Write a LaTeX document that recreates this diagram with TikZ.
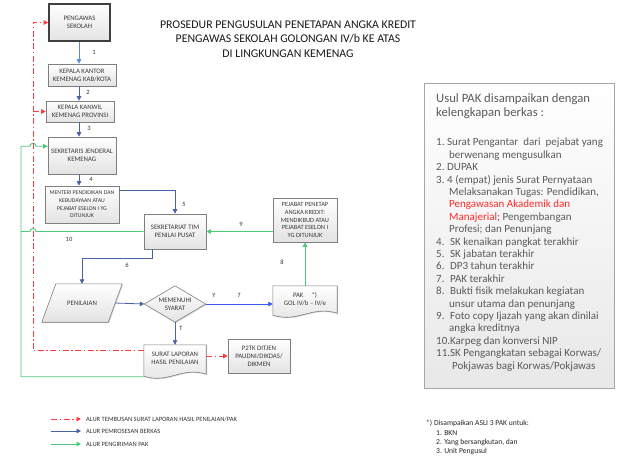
\documentclass[tikz,border=0pt]{standalone}
\usepackage{fontspec}
\setmainfont{Carlito}
\usetikzlibrary{arrows.meta,calc,shadows,backgrounds}
\definecolor{boxline}{HTML}{7F7F7F}
\definecolor{txt}{HTML}{3A3A3A}
\definecolor{procblue}{HTML}{4A62A8}
\definecolor{lightblue}{HTML}{5B8ED6}
\definecolor{brightblue}{HTML}{3A5BF0}
\definecolor{pakgreen}{HTML}{4CCB7A}
\definecolor{tembred}{HTML}{FF3B3B}
\definecolor{grayt}{HTML}{5A5A5A}
\definecolor{redt}{HTML}{FF2A2A}
\begin{document}
\begin{tikzpicture}[x=1pt,y=-1pt,
  flowbox/.style={draw=boxline, line width=0.6pt, top color=white, bottom color=black!11,
    drop shadow={shadow xshift=0.9pt,shadow yshift=-0.9pt,opacity=0.3},
    text=txt, font=\fontsize{6.8}{8}\selectfont, align=center, inner sep=1pt},
  shapebox/.style={draw=boxline, line width=0.6pt, top color=white, bottom color=black!11,
    drop shadow={shadow xshift=0.9pt,shadow yshift=-0.9pt,opacity=0.3}},
  shapetext/.style={text=txt, font=\fontsize{6.8}{8}\selectfont, align=center, inner sep=0pt},
  flabel/.style={font=\fontsize{6.5}{7}\selectfont, text=black!80, inner sep=0pt},
  tip/.style={-{Triangle[length=4.5pt,width=4.5pt]}},
  procflow/.style={draw=procblue, line width=0.8pt, tip},
  redflow/.style={draw=tembred, line width=1pt, dash pattern=on 6pt off 2.5pt on 1.5pt off 2.5pt},
  greenflow/.style={draw=pakgreen, line width=0.9pt},
  legendtext/.style={font=\fontsize{6.5}{7}\selectfont, text=black!80, inner sep=0pt, anchor=west},
]
\useasboundingbox (0,0) rectangle (639,472);

% title
\node[align=center, font=\fontsize{11.8}{14.5}\selectfont, text=black!90] (title) at (288,39)
  {PROSEDUR PENGUSULAN PENETAPAN ANGKA KREDIT\\PENGAWAS SEKOLAH GOLONGAN IV/b KE ATAS\\DI LINGKUNGAN KEMENAG};

% flow boxes
\node[flowbox, minimum width=61pt, minimum height=37pt, draw=black!75, line width=1.6pt] (peng) at (79.5,22.5) {PENGAWAS\\SEKOLAH};
\node[flowbox, minimum width=68pt, minimum height=22pt] (kab) at (82,75) {KEPALA KANTOR\\KEMENAG KAB/KOTA};
\node[flowbox, minimum width=68pt, minimum height=21pt] (kanwil) at (80,111.5) {KEPALA KANWIL\\KEMENAG PROVINSI};
\node[flowbox, minimum width=68pt, minimum height=37pt] (sekjen) at (82,155.5) {SEKRETARIS JENDERAL\\KEMENAG};
\node[flowbox, minimum width=74pt, minimum height=37pt, font=\fontsize{5.8}{7.7}\selectfont] (menteri) at (82,204.5) {MENTERI PENDIDIKAN DAN\\KEBUDAYAAN ATAU\\PEJABAT ESELON I YG\\DITUNJUK};
\node[flowbox, minimum width=62pt, minimum height=35pt] (sekr) at (175,231.5) {SEKRETARIAT TIM\\PENILAI PUSAT};
\node[flowbox, minimum width=64pt, minimum height=44pt, font=\fontsize{6.4}{7.8}\selectfont] (pejabat) at (305,220) {PEJABAT PENETAP\\ANGKA KREDIT:\\MENDIKBUD ATAU\\PEJABAT ESELON I\\YG DITUNJUK};
\node[flowbox, minimum width=62pt, minimum height=34pt] (p2tk) at (259,356) {P2TK DITJEN\\PAUDNI/DIKDAS/\\DIKMEN};

% shape nodes (text only; outlines on background)
\node[shapetext, minimum width=80pt, minimum height=38pt] (penil) at (82,303) {PENILAIAN};
\node[shapetext, minimum width=61pt, minimum height=36pt] (syarat) at (175,304) {MEMENUHI\\SYARAT};
\node[shapetext, minimum width=64pt, minimum height=26pt] (pak) at (305,299) {PAK\hspace{8pt}*)\\GOL IV/b -- IV/e};
\node[shapetext, minimum width=62pt, minimum height=27pt] (surat) at (175,358.5) {SURAT LAPORAN\\HASIL PENILAIAN};

\begin{scope}[on background layer]
  \fill[white] (0,0) rectangle (639,472);
  \path[shapebox] ($(penil.north west)+(14,0)$) -- (penil.north east) -- ($(penil.south east)+(-14,0)$) -- (penil.south west) -- cycle;
  \path[shapebox] (syarat.west) -- (syarat.north) -- (syarat.east) -- (syarat.south) -- cycle;
  \path[shapebox] (pak.north west) -- (pak.north east) -- ($(pak.south east)+(0,1)$)
     .. controls +(-26,-8) and +(26,8) .. ($(pak.south west)+(0,3)$) -- cycle;
  \path[shapebox] (surat.north west) -- (surat.north east) -- ($(surat.south east)+(0,2)$)
     .. controls +(-25,-8) and +(25,8) .. ($(surat.south west)+(0,4)$) -- cycle;
\end{scope}

% helper columns
\coordinate (col) at (79,0);
\coordinate (redx) at (33,0);
\coordinate (gx) at (21,0);

% process flow (blue)
\draw[procflow, draw=lightblue] (peng.south -| col) -- (kab.north -| col);
\draw[procflow] (kab.south -| col) -- (kanwil.north -| col);
\draw[procflow] (kanwil.south -| col) -- (sekjen.north -| col);
\draw[procflow] (sekjen.south -| col) -- (menteri.north -| col);
\draw[procflow] ($(menteri.north east)+(0,5)$) -| (sekr.north);
\draw[procflow] ($(sekr.south west)+(9,0)$) -- ++(0,9) -| (penil.north);
\draw[procflow] ($(penil.east)+(-7,0)$) -- (syarat.west);
\draw[procflow, draw=brightblue] (syarat.east) -- (syarat.east -| pak.west);
\draw[procflow] (syarat.south) -- (surat.north);

% PAK flow (green)
\draw[greenflow, tip] (pak.north) -- (pejabat.south);
\draw[greenflow, tip] (pejabat.west |- sekr.east) -- (sekr.east);
\coordinate (sk) at ($(sekjen.north west)+(0,9.5)$);
\draw[greenflow, tip] ($(surat.south west)+(0,4.5)$) -- ($(gx |- surat.south west)+(0,4.5)$) -- (gx |- sk)
   -- ($(redx |- sk)+(-3,0)$) arc[start angle=180, end angle=360, radius=3] -- (sk);
\draw[greenflow] (sekr.west) -- ($(redx |- sekr.west)+(3,0)$) arc[start angle=0, end angle=-180, radius=3] -- (gx |- sekr.west);

% copy flow (red)
\draw[redflow, tip] ($(surat.north west)+(0,6)$) -| (redx |- peng.west) -- (peng.west);
\draw[redflow, tip] (redx |- kanwil.west) -- (kanwil.west);
\draw[redflow, tip] (p2tk.west -| surat.east) -- (p2tk.west);

% flow labels
\node[flabel] (l1) at (94,52) {1};
\node[flabel] (l2) at (88,92) {2};
\node[flabel] (l3) at (89,128) {3};
\node[flabel] (l4) at (91,179) {4};
\node[flabel] (l5) at (184,204) {5};
\node[flabel] (l6) at (127,265) {6};
\node[flabel] (lY) at (214,295) {Y};
\node[flabel] (l7) at (239,295) {7};
\node[flabel] (l8) at (282,262) {8};
\node[flabel] (l9) at (241,224) {9};
\node[flabel] (l10) at (69,239) {10};
\node[flabel] (lT) at (181,328) {T};

% requirements box
\node[draw=black!35, line width=0.8pt, top color=white, bottom color=black!9,
  drop shadow={shadow xshift=1.2pt,shadow yshift=-1.2pt,opacity=0.35},
  minimum width=190pt, minimum height=305pt] (berkas) at (519,235.5) {};
\node[anchor=north west, inner sep=0pt, align=left, text=grayt, font=\fontsize{12.7}{14}\selectfont] (hdr) at (436,93)
  {Usul PAK disampaikan dengan\\kelengkapan berkas :};
\node[anchor=north west, inner sep=0pt, align=left, text=grayt, font=\fontsize{11}{12.4}\selectfont] (lst) at (436,138)
  {\makebox[11pt][l]{1.}Surat Pengantar~ dari~ pejabat yang\\
   \hspace*{13pt}berwenang mengusulkan\\
   \makebox[11pt][l]{2.}DUPAK\\
   \makebox[11pt][l]{3.}4 (empat) jenis Surat Pernyataan\\
   \hspace*{13pt}Melaksanakan Tugas: Pendidikan,\\
   \hspace*{13pt}\textcolor{redt}{Pengawasan Akademik dan}\\
   \hspace*{13pt}\textcolor{redt}{Manajerial}; Pengembangan\\
   \hspace*{13pt}Profesi; dan Penunjang\\
   \makebox[14pt][l]{4.}SK kenaikan pangkat terakhir\\
   \makebox[14pt][l]{5.}SK jabatan terakhir\\
   \makebox[14pt][l]{6.}DP3 tahun terakhir\\
   \makebox[14pt][l]{7.}PAK terakhir\\
   \makebox[14pt][l]{8.}Bukti fisik melakukan kegiatan\\
   \hspace*{13pt}unsur utama dan penunjang\\
   \makebox[14pt][l]{9.}Foto copy Ijazah yang akan dinilai\\
   \hspace*{13pt}angka kreditnya\\
   10.Karpeg dan konversi NIP\\
   11.SK Pengangkatan sebagai Korwas/\\
   \hspace*{16pt}Pokjawas bagi Korwas/Pokjawas};

% legend
\coordinate (lg1a) at (51,419);
\coordinate (lg2a) at (51,431);
\coordinate (lg3a) at (51,444);
\node[legendtext] (lg1) at (86,419) {ALUR TEMBUSAN SURAT LAPORAN HASIL PENILAIAN/PAK};
\node[legendtext] (lg2) at (86,431) {ALUR PEMROSESAN BERKAS};
\node[legendtext] (lg3) at (86,444) {ALUR PENGIRIMAN PAK};
\draw[redflow, tip] (lg1a) -- ($(lg1.west)+(-5,0)$);
\draw[procflow] (lg2a) -- ($(lg2.west)+(-5,0)$);
\draw[greenflow, tip] (lg3a) -- ($(lg3.west)+(-5,0)$);

% footnote
\node[anchor=north west, inner sep=0pt, align=left, text=black!85, font=\fontsize{7.6}{9.4}\selectfont] (fn) at (426,420)
  {*) Disampaikan ASLI 3 PAK untuk:\\
   \hspace*{10pt}1. BKN\\
   \hspace*{10pt}2. Yang bersangkutan, dan\\
   \hspace*{10pt}3. Unit Pengusul};
\end{tikzpicture}
\end{document}
